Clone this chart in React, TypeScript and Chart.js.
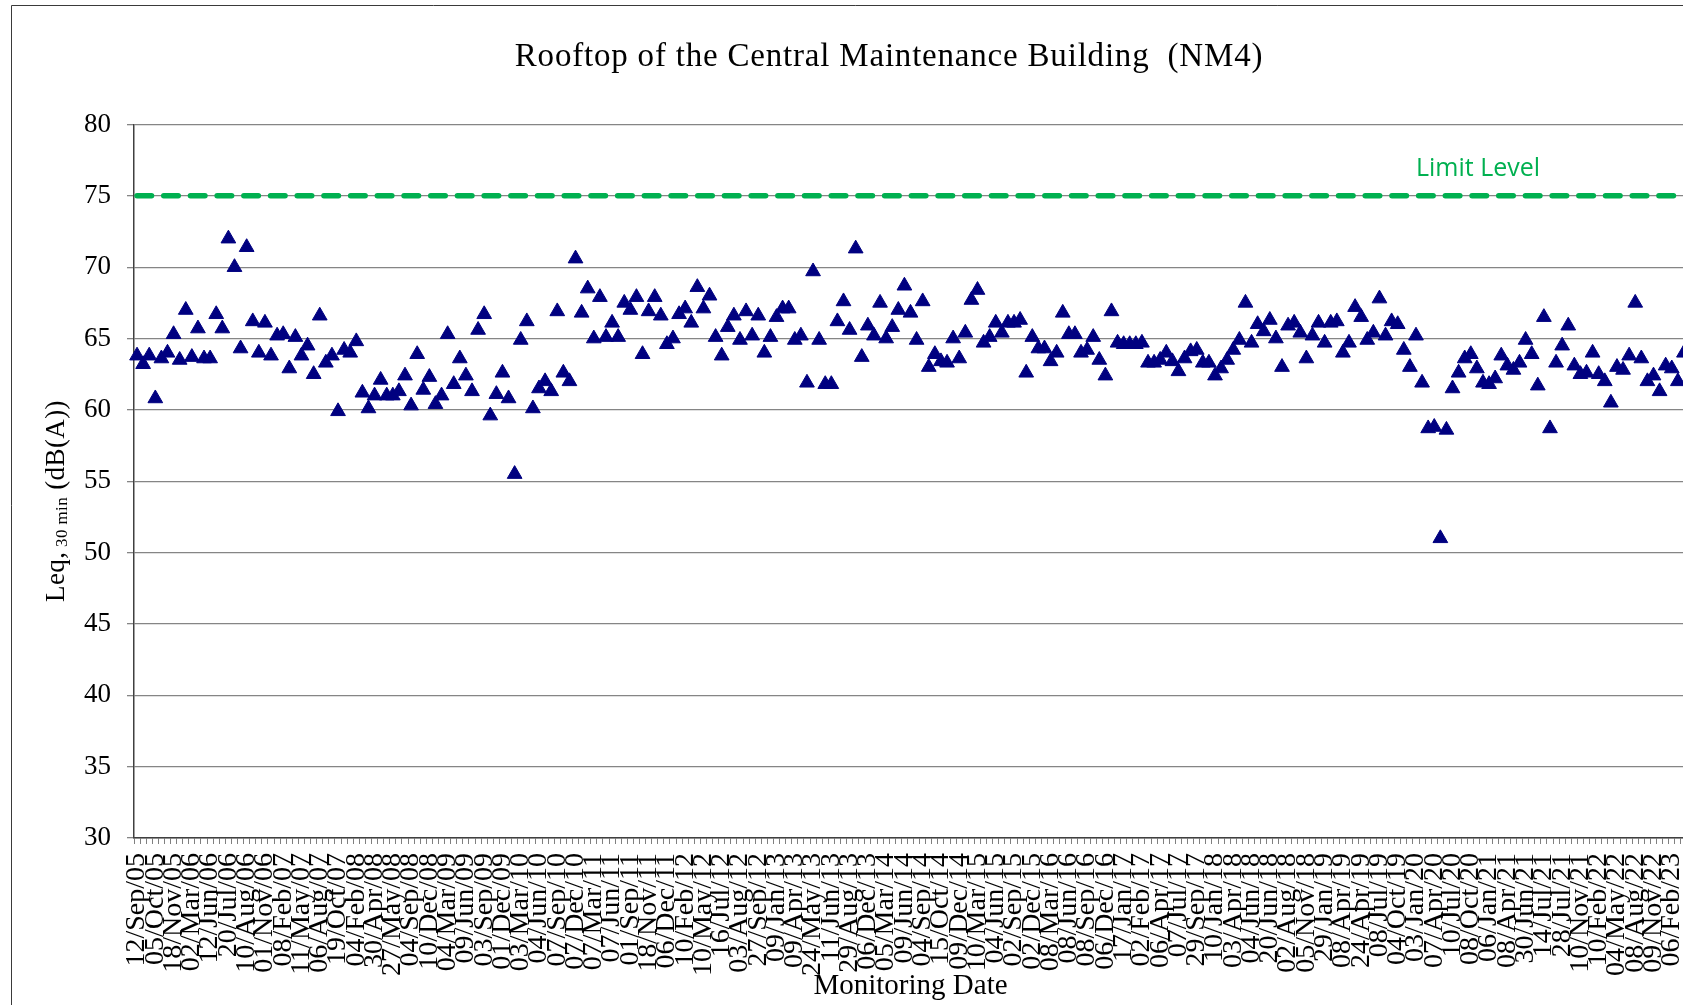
import React, { useEffect, useRef } from 'react';
import { Chart, registerables } from 'chart.js';

Chart.register(...registerables);

// ---------------- data ----------------
const chartTitle = 'Rooftop of the Central Maintenance Building  (NM4)';
const xAxisTitle = 'Monitoring Date';
const limitLabel = 'Limit Level';
const limitLevel = 75;

// one tick label is shown for every third monitoring date
const labelEvery = 3;
const tickLabels = [
  '12/Sep/05', '05/Oct/05', '18/Nov/05', '02/Mar/06', '12/Jun/06', '20/Jul/06', '10/Aug/06', '01/Nov/06',
  '08/Feb/07', '11/May/07', '06/Aug/07', '19/Oct/07', '04/Feb/08', '30/Apr/08', '27/May/08', '04/Sep/08',
  '10/Dec/08', '04/Mar/09', '09/Jun/09', '03/Sep/09', '01/Dec/09', '03/Mar/10', '04/Jun/10', '07/Sep/10',
  '07/Dec/10', '07/Mar/11', '07/Jun/11', '01/Sep/11', '18/Nov/11', '06/Dec/11', '10/Feb/12', '10/May/12',
  '16/Jul/12', '03/Aug/12', '27/Sep/12', '09/Jan/13', '09/Apr/13', '24/May/13', '11/Jun/13', '29/Aug/13',
  '06/Dec/13', '05/Mar/14', '09/Jun/14', '04/Sep/14', '15/Oct/14', '09/Dec/14', '10/Mar/15', '04/Jun/15',
  '02/Sep/15', '02/Dec/15', '08/Mar/16', '08/Jun/16', '08/Sep/16', '06/Dec/16', '17/Jan/17', '02/Feb/17',
  '06/Apr/17', '07/Jul/17', '29/Sep/17', '10/Jan/18', '03/Apr/18', '04/Jun/18', '20/Jun/18', '02/Aug/18',
  '05/Nov/18', '29/Jan/19', '08/Apr/19', '24/Apr/19', '08/Jul/19', '04/Oct/19', '03/Jan/20', '07/Apr/20',
  '10/Jul/20', '08/Oct/20', '06/Jan/21', '08/Apr/21', '30/Jun/21', '14/Jul/21', '28/Jul/21', '10/Nov/21',
  '10/Feb/22', '04/May/22', '08/Aug/22', '09/Nov/22', '06/Feb/23',
];

// Leq 30 min, dB(A), one value per monitoring date
const leqValues = [
  63.8, 63.2, 63.8, 60.8, 63.6, 64.0, 65.3, 63.5, 67.0, 63.7,
  65.7, 63.6, 63.6, 66.7, 65.7, 72.0, 70.0, 64.3, 71.4, 66.2,
  64.0, 66.1, 63.8, 65.2, 65.3, 62.9, 65.1, 63.8, 64.5, 62.5,
  66.6, 63.3, 63.8, 59.9, 64.2, 64.0, 64.8, 61.2, 60.1, 61.0,
  62.1, 61.0, 61.0, 61.3, 62.4, 60.3, 63.9, 61.4, 62.3, 60.4,
  61.0, 65.3, 61.8, 63.6, 62.4, 61.3, 65.6, 66.7, 59.6, 61.1,
  62.6, 60.8, 55.5, 64.9, 66.2, 60.1, 61.5, 62.0, 61.3, 66.9,
  62.6, 62.0, 70.6, 66.8, 68.5, 65.0, 67.9, 65.1, 66.1, 65.1,
  67.5, 67.0, 67.9, 63.9, 66.9, 67.9, 66.6, 64.6, 65.0, 66.7,
  67.1, 66.1, 68.6, 67.1, 68.0, 65.1, 63.8, 65.8, 66.6, 64.9,
  66.9, 65.2, 66.6, 64.0, 65.1, 66.5, 67.1, 67.1, 64.9, 65.2,
  61.9, 69.7, 64.9, 61.8, 61.8, 66.2, 67.6, 65.6, 71.3, 63.7,
  65.9, 65.2, 67.5, 65.0, 65.8, 67.0, 68.7, 66.8, 64.9, 67.6,
  63.0, 63.9, 63.4, 63.3, 65.0, 63.6, 65.4, 67.7, 68.4, 64.7,
  65.1, 66.1, 65.4, 66.1, 66.1, 66.3, 62.6, 65.1, 64.3, 64.3,
  63.4, 64.0, 66.8, 65.3, 65.3, 64.0, 64.2, 65.1, 63.5, 62.4,
  66.9, 64.7, 64.6, 64.6, 64.6, 64.7, 63.3, 63.3, 63.5, 64.0,
  63.4, 62.7, 63.6, 64.1, 64.2, 63.3, 63.3, 62.4, 62.9, 63.5,
  64.2, 64.9, 67.5, 64.7, 66.0, 65.5, 66.3, 65.0, 63.0, 65.9,
  66.1, 65.4, 63.6, 65.2, 66.1, 64.7, 66.1, 66.2, 64.0, 64.7,
  67.2, 66.5, 64.9, 65.4, 67.8, 65.2, 66.2, 66.0, 64.2, 63.0,
  65.2, 61.9, 58.7, 58.8, 51.0, 58.6, 61.5, 62.6, 63.6, 63.9,
  62.9, 61.9, 61.8, 62.2, 63.8, 63.1, 62.8, 63.3, 64.9, 63.9,
  61.7, 66.5, 58.7, 63.3, 64.5, 65.9, 63.1, 62.5, 62.6, 64.0,
  62.5, 62.0, 60.5, 63.0, 62.8, 63.8, 67.5, 63.6, 62.0, 62.4,
  61.3, 63.1, 62.9, 62.0, 64.0,
];

const yMin = 30;
const yMax = 80;
const yStep = 5;

// ---------------- layout constants ----------------
const CANVAS_W = 1700;
const CANVAS_H = 1005;
const PLOT_LEFT = 134;
const PLOT_RIGHT = 1687;
const PLOT_TOP = 124.5;
const PLOT_BOTTOM = 838;

const SERIF = "'Liberation Serif', 'Times New Roman', serif";

const categories = leqValues.map((_, i) =>
  i % labelEvery === 0 ? tickLabels[i / labelEvery] ?? '' : ''
);

const decorPlugin = {
  id: 'decor',
  afterDraw(chart: any) {
    const ctx: any = chart.ctx;
    ctx.save();
    // outer chart frame
    ctx.strokeStyle = '#3a3a3a';
    ctx.lineWidth = 1;
    ctx.beginPath();
    ctx.moveTo(11.5, CANVAS_H);
    ctx.lineTo(11.5, 5.5);
    ctx.lineTo(CANVAS_W, 5.5);
    ctx.stroke();

    // title
    ctx.fillStyle = '#000';
    ctx.textAlign = 'center';
    ctx.textBaseline = 'middle';
    ctx.font = `33px ${SERIF}`;
    ctx.letterSpacing = '0.8px';
    ctx.fillText(chartTitle, 889, 57);

    // limit level label
    ctx.letterSpacing = '0px';
    ctx.fillStyle = '#00B050';
    ctx.font = "25px 'Open Sans', 'Noto Sans', sans-serif";
    ctx.fillText(limitLabel, 1478, 169);

    // y-axis title with subscript
    ctx.translate(57, 501);
    ctx.rotate(-Math.PI / 2);
    ctx.letterSpacing = '0.4px';
    const big = `27px ${SERIF}`;
    const small = `17px ${SERIF}`;
    const parts = [
      { t: 'Leq,', f: big, dy: 0 },
      { t: ' 30 min', f: small, dy: 6 },
      { t: ' (dB(A))', f: big, dy: 0 },
    ];
    let total = 0;
    parts.forEach((p) => {
      ctx.font = p.f;
      total += ctx.measureText(p.t).width;
    });
    let x = -total / 2;
    ctx.fillStyle = '#000';
    ctx.textAlign = 'left';
    ctx.textBaseline = 'middle';
    parts.forEach((p) => {
      ctx.font = p.f;
      ctx.fillText(p.t, x, p.dy);
      x += ctx.measureText(p.t).width;
    });
    ctx.letterSpacing = '0px';
    ctx.restore();
  },
};

export default function App() {
  const canvasRef = useRef<HTMLCanvasElement | null>(null);

  useEffect(() => {
    if (!canvasRef.current) return;
    const chart = new Chart(canvasRef.current, {
      type: 'line',
      data: {
        labels: categories,
        datasets: [
          {
            label: 'Leq',
            data: leqValues,
            showLine: false,
            pointStyle: 'triangle',
            pointRadius: 8.5,
            pointHoverRadius: 8.5,
            pointBackgroundColor: '#000080',
            pointBorderColor: '#000080',
            pointBorderWidth: 1,
            order: 1,
          },
          {
            label: limitLabel,
            data: categories.map(() => limitLevel),
            borderColor: '#00B050',
            borderWidth: 5.5,
            borderDash: [14.5, 12.2],
            borderCapStyle: 'round',
            pointRadius: 0,
            fill: false,
            order: 2,
          },
        ],
      },
      options: {
        responsive: false,
        animation: false,
        devicePixelRatio: 1,
        events: [],
        layout: {
          padding: { left: 0, right: CANVAS_W - PLOT_RIGHT, top: PLOT_TOP, bottom: 0 },
        },
        plugins: {
          legend: { display: false },
          tooltip: { enabled: false },
          title: { display: false },
        },
        scales: {
          x: {
            type: 'category',
            offset: true,
            grid: {
              offset: true,
              drawOnChartArea: false,
              drawTicks: true,
              tickLength: 6,
              color: '#808080',
              lineWidth: 1,
            },
            border: { color: '#404040', width: 1.5 },
            ticks: {
              autoSkip: false,
              maxRotation: 90,
              minRotation: 90,
              padding: 9,
              color: '#000',
              font: { family: SERIF, size: 28 },
            },
            title: {
              display: true,
              text: xAxisTitle,
              color: '#000',
              font: { family: SERIF, size: 29 },
              padding: { top: 0, bottom: 1 },
            },
            afterFit: (scale: any) => {
              scale.height = CANVAS_H - PLOT_BOTTOM;
              scale.paddingLeft = 0;
              scale.paddingRight = 0;
            },
          },
          y: {
            min: yMin,
            max: yMax,
            ticks: {
              stepSize: yStep,
              padding: 16,
              color: '#000',
              font: { family: SERIF, size: 27 },
            },
            grid: {
              color: '#858585',
              lineWidth: 1.3,
              tickLength: 7,
            },
            border: { color: '#404040', width: 1.5 },
            afterFit: (scale: any) => {
              scale.width = PLOT_LEFT;
            },
          },
        },
      },
      plugins: [decorPlugin],
    } as any);
    return () => chart.destroy();
  }, []);

  return (
    <div
      style={{
        position: 'absolute',
        left: 0,
        top: 0,
        width: 1683,
        height: CANVAS_H,
        overflow: 'hidden',
        background: '#fff',
      }}
    >
      <canvas
        ref={canvasRef}
        width={CANVAS_W}
        height={CANVAS_H}
        style={{ width: CANVAS_W, height: CANVAS_H, display: 'block' }}
      />
    </div>
  );
}
